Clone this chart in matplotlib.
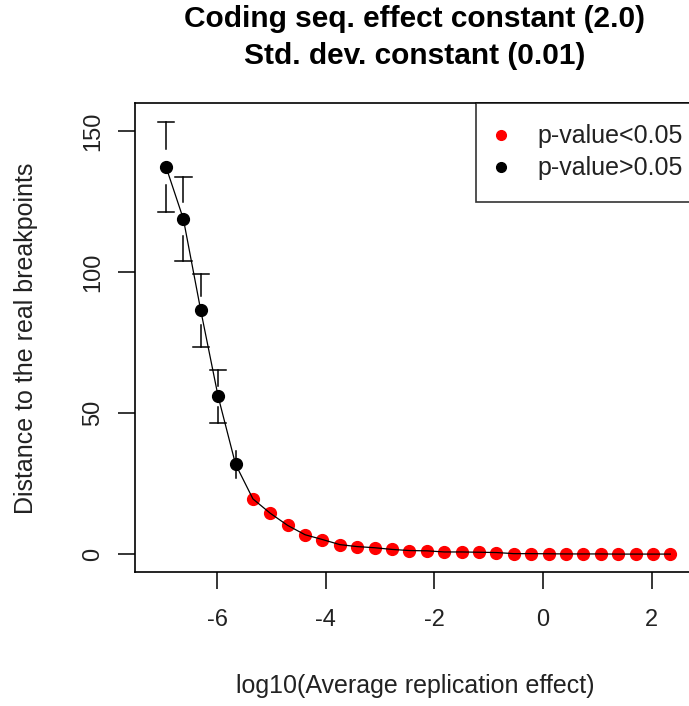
import matplotlib
matplotlib.use('Agg')
from matplotlib import pyplot as plt
import numpy as np

# log10(average replication effect) and distance to real breakpoints
log_effect = [-6.94, -6.62, -6.30, -5.98, -5.66, -5.34, -5.02, -4.70, -4.38, -4.06,
              -3.74, -3.42, -3.10, -2.78, -2.46, -2.14, -1.82, -1.50, -1.18, -0.86,
              -0.54, -0.22, 0.10, 0.42, 0.74, 1.06, 1.38, 1.70, 2.02, 2.34]
distance = [137.3, 118.8, 86.4, 55.9, 31.9, 19.6, 14.5, 10.2, 6.9, 5.2,
            3.4, 2.7, 2.3, 1.7, 1.3, 1.2, 0.8, 0.8, 0.7, 0.6,
            0.2, 0.2, 0.15, 0.1, 0.1, 0.1, 0.05, 0.05, 0.05, 0.05]
std_dev = [16.0, 14.9, 12.9, 9.3, 4.8, 0, 0, 0, 0, 0,
           0, 0, 0, 0, 0, 0, 0, 0, 0, 0,
           0, 0, 0, 0, 0, 0, 0, 0, 0, 0]
significant = [False] * 5 + [True] * 25

x = np.array(log_effect)
y = np.array(distance)
sd = np.array(std_dev)
sig = np.array(significant)

plt.rcParams['font.family'] = ['Liberation Sans', 'DejaVu Sans']
plt.rcParams['axes.unicode_minus'] = False

W, H = 689, 706
fig = plt.figure(figsize=(W / 100, H / 100), dpi=100)
# axes box in pixels: left 135, right 704 (clipped), top 103, bottom 572
ax = fig.add_axes([135 / W, 1 - 572 / H, (704 - 135) / W, (572 - 103) / H])

# error bars (stems only cover the outer part, as in the original)
for xi, yi, si in zip(x, y, sd):
    if si <= 0:
        continue
    ax.plot([xi, xi], [yi + si, yi + 0.4 * si], color='black', lw=1.1)
    ax.plot([xi, xi], [yi - si, yi - 0.4 * si], color='black', lw=1.1)
    if si > 6:
        ax.plot([xi - 0.15, xi + 0.15], [yi + si] * 2, color='black', lw=1.1)
        ax.plot([xi - 0.15, xi + 0.15], [yi - si] * 2, color='black', lw=1.1)

ax.plot(x[sig], y[sig], 'o', color='red', ms=8.5, mec='red', zorder=3)
ax.plot(x[~sig], y[~sig], 'o', color='black', ms=8.5, zorder=3)
ax.plot(x, y, color='black', lw=0.9, zorder=4)

ax.set_xlim(-7.51, 2.96)
ax.set_ylim(-6.3, 159.9)
ax.set_xticks([-6, -4, -2, 0, 2])
ax.set_yticks([0, 50, 100, 150])
ax.tick_params(direction='out', length=12, width=1.1, labelsize=17, labelcolor='#222222')
ax.tick_params(axis='x', pad=15)
ax.tick_params(axis='y', pad=10)
for lbl in ax.get_yticklabels():
    lbl.set_rotation(90)
    lbl.set_va('center')
for s in ax.spines.values():
    s.set_linewidth(1.2)

fig.text(415 / W, 1 - 686 / H, 'log10(Average replication effect)', ha='center', va='center',
         fontsize=18, color='#222222')
fig.text(26 / W, 1 - 338 / H, 'Distance to the real breakpoints', ha='center', va='center',
         fontsize=18, rotation=90, color='#222222')

fig.text(415 / W, 1 - 19 / H, 'Coding seq. effect constant (2.0)', ha='center', va='center',
         fontsize=21.5, fontweight='bold')
fig.text(415 / W, 1 - 56 / H, 'Std. dev. constant (0.01)', ha='center', va='center',
         fontsize=21.5, fontweight='bold')

# legend
ax.plot([], [], 'o', color='red', ms=7, label='p-value<0.05')
ax.plot([], [], 'o', color='black', ms=7, label='p-value>0.05')
handles, labels = ax.get_legend_handles_labels()
leg = ax.legend(handles[-2:], labels[-2:], loc='upper right', bbox_to_anchor=(1, 1),
                borderaxespad=0, fontsize=18, frameon=True, fancybox=False,
                handlelength=0.3, handletextpad=1.3, borderpad=0.85, labelspacing=0.33)
leg.get_frame().set_edgecolor('black')
leg.get_frame().set_linewidth(1.2)
for t in leg.get_texts():
    t.set_color('#222222')

plt.savefig('out.png', dpi=100)
plt.close()
